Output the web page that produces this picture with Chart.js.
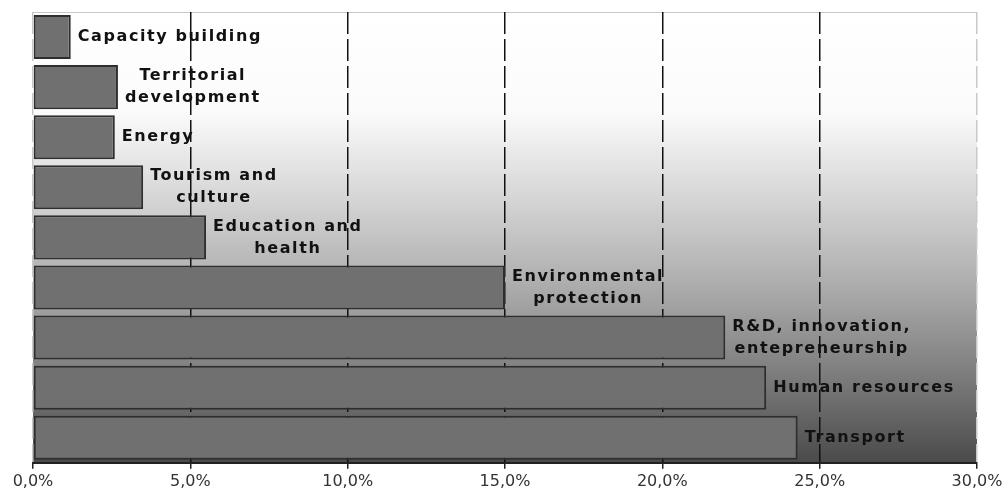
<!DOCTYPE html>
<html lang="en">
<head>
    <meta charset="UTF-8">
    <title>Allocation by priority</title>
    <script src="https://cdn.jsdelivr.net/npm/chart.js"></script>
    <style>
        body { margin: 0; background: #fff; }
        #wrap { width: 1007px; height: 494px; }
    </style>
</head>
<body>
    <div id="wrap"><canvas id="barChart"></canvas></div>
    <script>
        // categories top to bottom, each line of the label is one entry
        const categories = [
            ['Capacity building'],
            ['Territorial', 'development'],
            ['Energy'],
            ['Tourism and', 'culture'],
            ['Education and', 'health'],
            ['Environmental', 'protection'],
            ['R&D, innovation,', 'entepreneurship'],
            ['Human resources'],
            ['Transport']
        ];
        const shares = [1.2, 2.7, 2.6, 3.5, 5.5, 15.0, 22.0, 23.3, 24.3];
        const xTicks = [0, 5, 10, 15, 20, 25, 30];

        // gradient background + top border of the plot area
        const plotBackground = {
            id: 'plotBackground',
            beforeDraw(chart) {
                const { ctx, chartArea: a } = chart;
                const g = ctx.createLinearGradient(0, a.top, 0, a.bottom);
                g.addColorStop(0, '#ffffff');
                g.addColorStop(0.22, '#fbfbfb');
                g.addColorStop(0.4, '#d8d8d8');
                g.addColorStop(0.6, '#aeaeae');
                g.addColorStop(0.8, '#7e7e7e');
                g.addColorStop(1, '#4a4a4a');
                ctx.save();
                ctx.fillStyle = g;
                ctx.fillRect(a.left, a.top, a.right - a.left, a.bottom - a.top);
                ctx.strokeStyle = '#c8c8c8';
                ctx.lineWidth = 1;
                ctx.beginPath();
                ctx.moveTo(a.left, a.top + 0.5);
                ctx.lineTo(a.right, a.top + 0.5);
                ctx.stroke();
                ctx.restore();
            }
        };

        // labels written right after the end of each bar
        const barLabels = {
            id: 'barLabels',
            afterDatasetsDraw(chart) {
                const { ctx } = chart;
                const meta = chart.getDatasetMeta(0);
                ctx.save();
                ctx.font = 'bold 16px "DejaVu Sans"';
                ctx.letterSpacing = '1.6px';
                ctx.fillStyle = '#111';
                ctx.textAlign = 'center';
                ctx.textBaseline = 'middle';
                const lh = 22;
                meta.data.forEach((bar, i) => {
                    const lines = categories[i];
                    const w = Math.max(...lines.map(l => ctx.measureText(l).width));
                    const cx = bar.x + 7 + w / 2;
                    const y0 = bar.y - (lines.length - 1) * lh / 2;
                    lines.forEach((l, j) => ctx.fillText(l, cx, y0 + j * lh));
                });
                ctx.restore();
            }
        };

        const ctx = document.getElementById('barChart').getContext('2d');
        new Chart(ctx, {
            type: 'bar',
            data: {
                labels: categories,
                datasets: [{
                    data: shares,
                    backgroundColor: '#707070',
                    borderColor: '#2e2e2e',
                    borderWidth: 2,
                    borderSkipped: false,
                    barPercentage: 0.88,
                    categoryPercentage: 1
                }]
            },
            plugins: [plotBackground, barLabels],
            options: {
                indexAxis: 'y',
                responsive: true,
                maintainAspectRatio: false,
                animation: false,
                layout: { padding: { left: 33, right: 30, top: 12, bottom: 0 } },
                plugins: { legend: { display: false }, tooltip: { enabled: false } },
                scales: {
                    x: {
                        min: 0,
                        max: 30,
                        afterBuildTicks(axis) {
                            axis.ticks = xTicks.map(v => ({ value: v }));
                        },
                        grid: {
                            color: c => (c.tick && (c.tick.value === 0 || c.tick.value === 30)) ? '#c8c8c8' : '#111',
                            tickColor: '#222',
                            lineWidth: 1.5,
                            tickLength: 6,
                            drawOnChartArea: true
                        },
                        border: { display: true, color: '#222', width: 2, dash: [22, 5] },
                        ticks: {
                            color: '#333',
                            padding: 3,
                            font: { family: '"DejaVu Sans"', size: 16 },
                            callback: v => v.toFixed(1).replace('.', ',') + '%'
                        }
                    },
                    y: {
                        display: false
                    }
                }
            }
        });
    </script>
</body>
</html>
